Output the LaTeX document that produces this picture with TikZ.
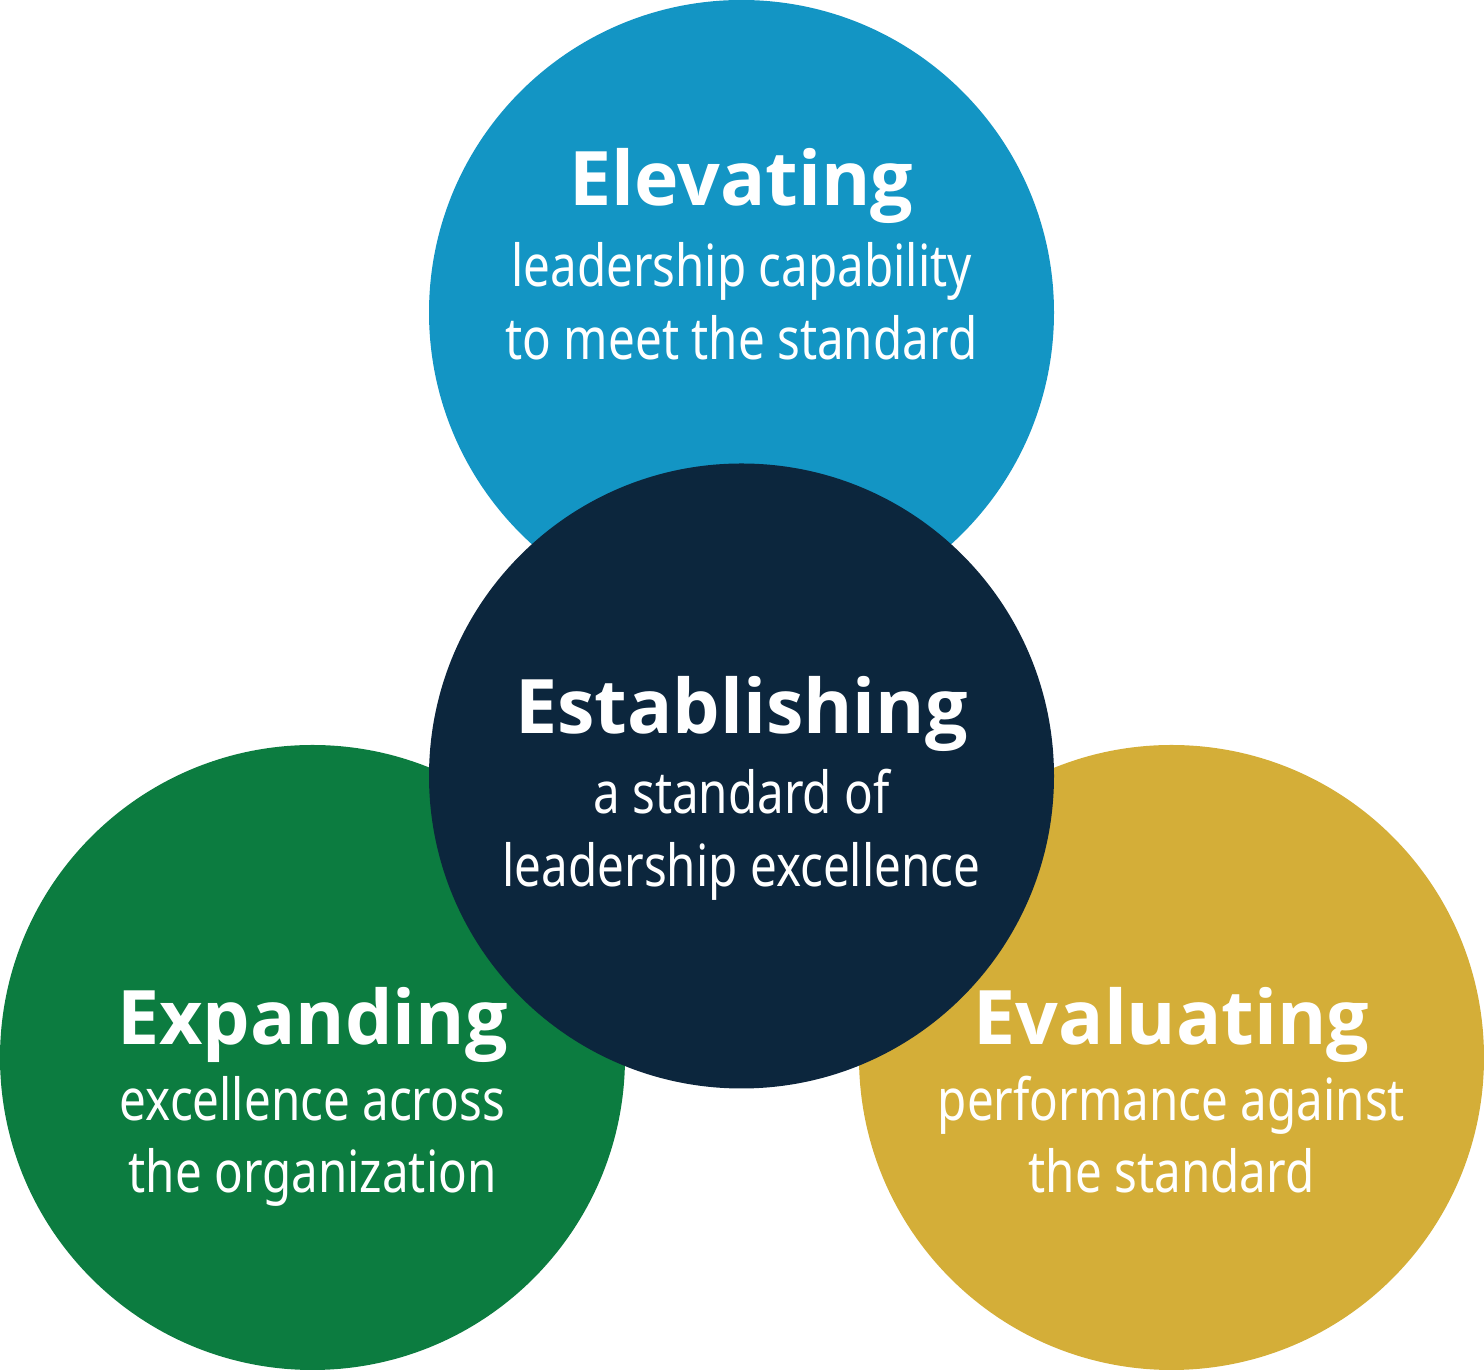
\documentclass[tikz,border=0pt]{standalone}
\usepackage{fontspec}
\setmainfont{Noto Sans}
\newfontfamily\ttlfont{Open Sans}
\newfontfamily\subfont{Noto Sans}[FakeStretch=0.82]
\definecolor{cblue}{HTML}{1395C4}
\definecolor{cnavy}{HTML}{0C263D}
\definecolor{cgreen}{HTML}{0C7C40}
\definecolor{cgold}{HTML}{D4AE38}
\begin{document}
\begin{tikzpicture}[x=0.5pt,y=0.5pt,
  disc/.style={circle, inner sep=0pt, minimum size=312.5pt, draw=none},
  ttl/.style={anchor=base, text=white, inner sep=0pt, font=\fontsize{37.6}{40}\selectfont\ttlfont\bfseries},
  sub/.style={anchor=base, text=white, inner sep=0pt, font=\fontsize{29}{36.5}\selectfont\subfont}]
\useasboundingbox (0,0) rectangle (1484,1370);
\node[disc, fill=cblue] (blue) at (741.5,1057.5) {};
\node[disc, fill=cgreen] (green) at (312.5,312.5) {};
\node[disc, fill=cgold] (gold) at (1171.5,312.5) {};
\node[disc, fill=cnavy] (navy) at (741.5,594) {};
% Elevating
\node[ttl] (t1) at (741.5,1164) {Elevating};
\node[sub] (s1a) at (741.5,1083) {leadership capability};
\node[sub] (s1b) at (741.5,1010) {to meet the standard};
% Establishing
\node[ttl] (t2) at (741.5,636) {Establishing};
\node[sub] (s2a) at (741.5,556) {a standard of};
\node[sub] (s2b) at (741.5,483) {leadership excellence};
% Expanding
\node[ttl] (t3) at (312.5,325) {Expanding};
\node[sub] (s3a) at (312.5,249) {excellence across};
\node[sub] (s3b) at (312.5,177) {the organization};
% Evaluating
\node[ttl] (t4) at (1171.5,325) {Evaluating};
\node[sub] (s4a) at (1171.5,249) {performance against};
\node[sub] (s4b) at (1171.5,177) {the standard};
\end{tikzpicture}
\end{document}
